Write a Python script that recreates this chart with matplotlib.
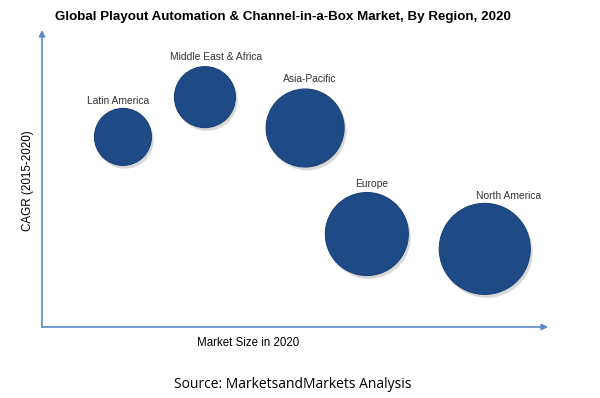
import matplotlib
matplotlib.use("Agg")
import matplotlib.pyplot as plt

regions = ["Latin America", "Middle East & Africa", "Asia-Pacific", "Europe", "North America"]
market_size = [16.0, 32.2, 52.0, 64.2, 87.5]
cagr = [64.0, 77.4, 67.0, 31.3, 26.3]
bubble_diam = [57, 61, 78, 83, 91]  # relative bubble size
label_dx = [-1.0, 2.2, 1.0, 1.0, 4.8]
label_dy = [12.0, 13.5, 16.5, 16.8, 17.8]

fig = plt.figure(figsize=(6.0, 3.98), dpi=100)
ax = fig.add_axes([42/600, 1-327/398, 506/600, 297/398])
ax.set_xlim(0, 100)
ax.set_ylim(0, 100)
ax.set_axis_off()

sizes = [(d * 0.72) ** 2 for d in bubble_diam]
# shadow
ax.scatter([x + 0.4 for x in market_size], [y - 1.0 for y in cagr], s=[s * 1.02 for s in sizes],
           color="#a0a0a0", alpha=0.4, linewidths=0, zorder=2)
# main bubbles
ax.scatter(market_size, cagr, s=sizes, color="#1e4a86", edgecolors="#1a4179", linewidths=0.8, zorder=3)

for name, x, y, dx, dy in zip(regions, market_size, cagr, label_dx, label_dy):
    ax.text(x + dx, y + dy, name, ha="center", va="center", fontsize=7.4,
            color="#333333", family=["Liberation Sans", "DejaVu Sans"], zorder=5)

axis_col = "#5b8ac4"
ax.annotate("", xy=(1.0, 0.0), xytext=(0.0, 0.0), xycoords="axes fraction",
            arrowprops=dict(arrowstyle="-|>", color=axis_col, lw=1.2, shrinkA=0, shrinkB=0,
                            mutation_scale=9))
ax.annotate("", xy=(0.0, 1.0), xytext=(0.0, 0.0), xycoords="axes fraction",
            arrowprops=dict(arrowstyle="-|>", color=axis_col, lw=1.2, shrinkA=0, shrinkB=0,
                            mutation_scale=9))

fig.text(283/600, 1-17/398, "Global Playout Automation & Channel-in-a-Box Market, By Region, 2020",
         ha="center", va="center", fontsize=9.6, fontweight="bold",
         family=["Liberation Sans", "DejaVu Sans"], color="#000000")
fig.text(248/600, 1-343/398, "Market Size in 2020", ha="center", va="center", fontsize=8.3,
         family=["Liberation Sans", "DejaVu Sans"], color="#000000")
fig.text(28/600, 1-181/398, "CAGR (2015-2020)", ha="center", va="center", rotation=90, fontsize=8.4,
         family=["Liberation Sans", "DejaVu Sans"], color="#000000")
fig.text(293/600, 1-384/398, "Source: MarketsandMarkets Analysis", ha="center", va="center",
         fontsize=10, family=["Open Sans", "DejaVu Sans"], color="#000000")

fig.savefig("out.png", dpi=100)
